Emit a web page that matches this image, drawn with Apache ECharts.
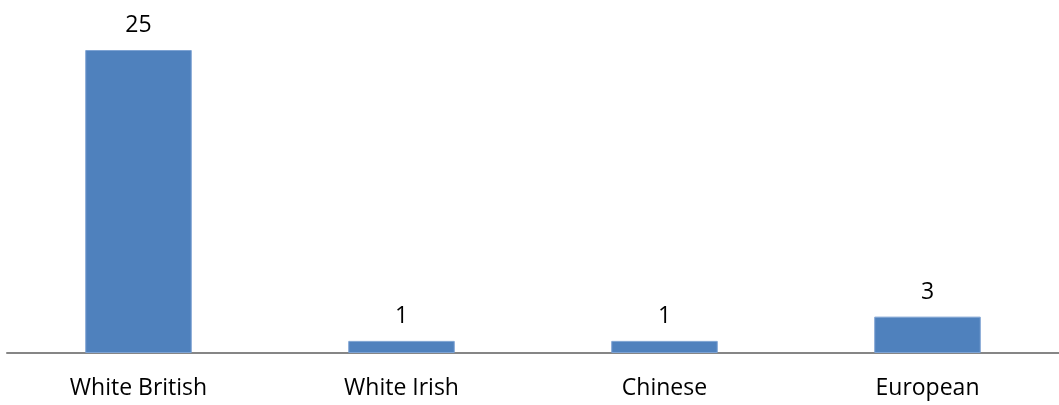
<!DOCTYPE html>
<html>
<head>
<meta charset="utf-8">
<script src="https://cdn.jsdelivr.net/npm/echarts@6/dist/echarts.min.js"></script>
<style>
  html, body { margin: 0; padding: 0; background: #fff; }
  #main { width: 1059px; height: 405px; }
</style>
</head>
<body>
<div id="main"></div>
<script>
var categories = ['White British', 'White Irish', 'Chinese', 'European'];
var counts = [25, 1, 1, 3];

var myChart = echarts.init(document.getElementById('main'));
var option = {
    animation: false,
    textStyle: { fontFamily: 'Open Sans' },
    grid: { left: 7, right: 0, top: 50, bottom: 52 },
    xAxis: {
        type: 'category',
        data: categories,
        axisLine: { lineStyle: { color: '#868686', width: 2 } },
        axisTick: { show: false },
        axisLabel: { color: '#000', fontSize: 23, margin: 24, fontFamily: 'Open Sans' }
    },
    yAxis: {
        type: 'value',
        min: 0,
        max: 25,
        show: false
    },
    series: [{
        type: 'bar',
        data: counts,
        barWidth: '40.5%',
        itemStyle: { color: '#4f81bd', borderColor: '#7ea3d3', borderWidth: 1 },
        label: {
            show: true,
            position: 'top',
            distance: 13,
            color: '#000',
            fontSize: 23,
            fontFamily: 'Open Sans'
        }
    }]
};
myChart.setOption(option);
</script>
</body>
</html>
